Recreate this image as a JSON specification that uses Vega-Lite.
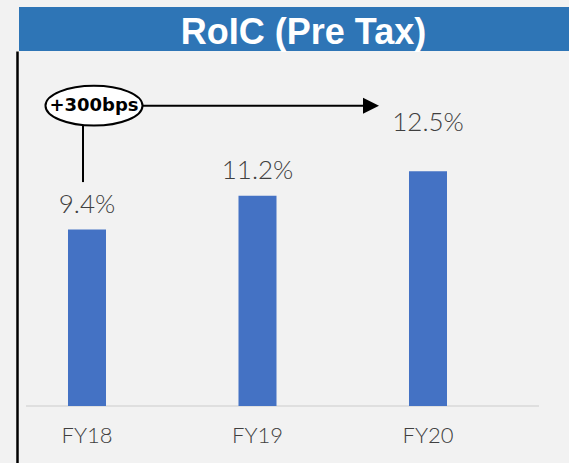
{
  "$schema": "https://vega.github.io/schema/vega-lite/v6.json",
  "background": "#f2f2f2",
  "padding": {"left": 17, "top": 7, "right": 0, "bottom": 0},
  "spacing": 0,
  "config": {"view": {"stroke": null}, "axis": {"grid": false}},
  "vconcat": [
    {
      "width": 551,
      "height": 44,
      "view": {"fill": "#2e75b6", "stroke": null},
      "data": {"values": [{"t": "RoIC (Pre Tax)"}]},
      "mark": {"type": "text", "font": "Liberation Sans", "fontWeight": "bold", "fontSize": 36, "fill": "white", "baseline": "alphabetic", "align": "center", "dy": 15, "dx": 9},
      "encoding": {"text": {"field": "t", "type": "nominal"}}
    },
    {
      "width": 520,
      "height": 412,
      "data": {"values": [
        {"year": "FY18", "value": 0.094},
        {"year": "FY19", "value": 0.112},
        {"year": "FY20", "value": 0.125}
      ]},
      "encoding": {
        "x": {"field": "year", "type": "nominal", "sort": null,
          "scale": {"domain": ["FY18", "FY19", "FY20"], "paddingInner": 0.7771, "paddingOuter": 0.41348, "align": 0.3475, "round": false},
          "axis": {"orient": "bottom", "offset": -57, "domain": false, "ticks": false, "labelFont": "Lato", "labelFontWeight": 300, "labelFontSize": 22, "labelColor": "#404040", "labelPadding": 19, "labelAngle": 0, "title": null}},
        "y": {"field": "value", "type": "quantitative",
          "scale": {"domain": [-0.030368, 0.18913], "nice": false, "zero": false},
          "axis": {"orient": "left", "offset": 2, "domainColor": "black", "domainWidth": 2.5, "ticks": false, "labels": false, "title": null, "grid": false}}
      },
      "layer": [
        {
          "data": {"values": [{"year": "FY18", "year2": "FY20", "value": 0}]},
          "mark": {"type": "rule", "color": "#d9d9d9", "strokeWidth": 1.5, "xOffset": -61, "x2Offset": 111},
          "encoding": {"x2": {"field": "year2"}}
        },
        {
          "mark": {"type": "bar", "color": "#4472c4"},
          "encoding": {"y2": {"datum": 0}}
        },
        {
          "transform": [{"filter": "datum.year != 'FY20'"}],
          "mark": {"type": "text", "font": "Lato", "fontWeight": 300, "fontSize": 26, "fill": "#404040", "baseline": "alphabetic", "dy": -17},
          "encoding": {"text": {"field": "value", "type": "quantitative", "format": ".1%"}}
        },
        {
          "transform": [{"filter": "datum.year == 'FY20'"}],
          "mark": {"type": "text", "font": "Lato", "fontWeight": 300, "fontSize": 26, "fill": "#404040", "baseline": "alphabetic", "dy": -40},
          "encoding": {"text": {"field": "value", "type": "quantitative", "format": ".1%"}}
        },
        {
          "data": {"values": [{"year": "FY18", "value": 0.16, "value2": 0.1193}]},
          "mark": {"type": "rule", "color": "black", "strokeWidth": 2, "xOffset": -4},
          "encoding": {"y2": {"field": "value2"}}
        },
        {
          "data": {"values": [{"year": "FY18", "year2": "FY20", "value": 0.16}]},
          "mark": {"type": "rule", "color": "black", "strokeWidth": 2, "xOffset": 7, "x2Offset": -60},
          "encoding": {"x2": {"field": "year2"}}
        },
        {
          "data": {"values": [{"year": "FY20", "value": 0.16}]},
          "mark": {"type": "point", "shape": "M-1,-1L1,0L-1,1Z", "size": 256, "filled": true, "fill": "black", "strokeWidth": 0, "opacity": 1, "xOffset": -57}
        },
        {
          "data": {"values": [{"year": "FY18", "value": 0.16, "note": "+300bps"}]},
          "mark": {"type": "point", "shape": "M-1,0A1,0.41,0,1,1,1,0A1,0.41,0,1,1,-1,0Z", "size": 9409, "filled": true, "fill": "white", "stroke": "black", "strokeWidth": 2, "opacity": 1, "xOffset": 7}
        },
        {
          "data": {"values": [{"year": "FY18", "value": 0.16, "note": "+300bps"}]},
          "mark": {"type": "text", "font": "DejaVu Sans", "fontWeight": "bold", "fontSize": 18, "fill": "black", "baseline": "middle", "xOffset": 7},
          "encoding": {"text": {"field": "note", "type": "nominal"}}
        }
      ]
    }
  ]
}
